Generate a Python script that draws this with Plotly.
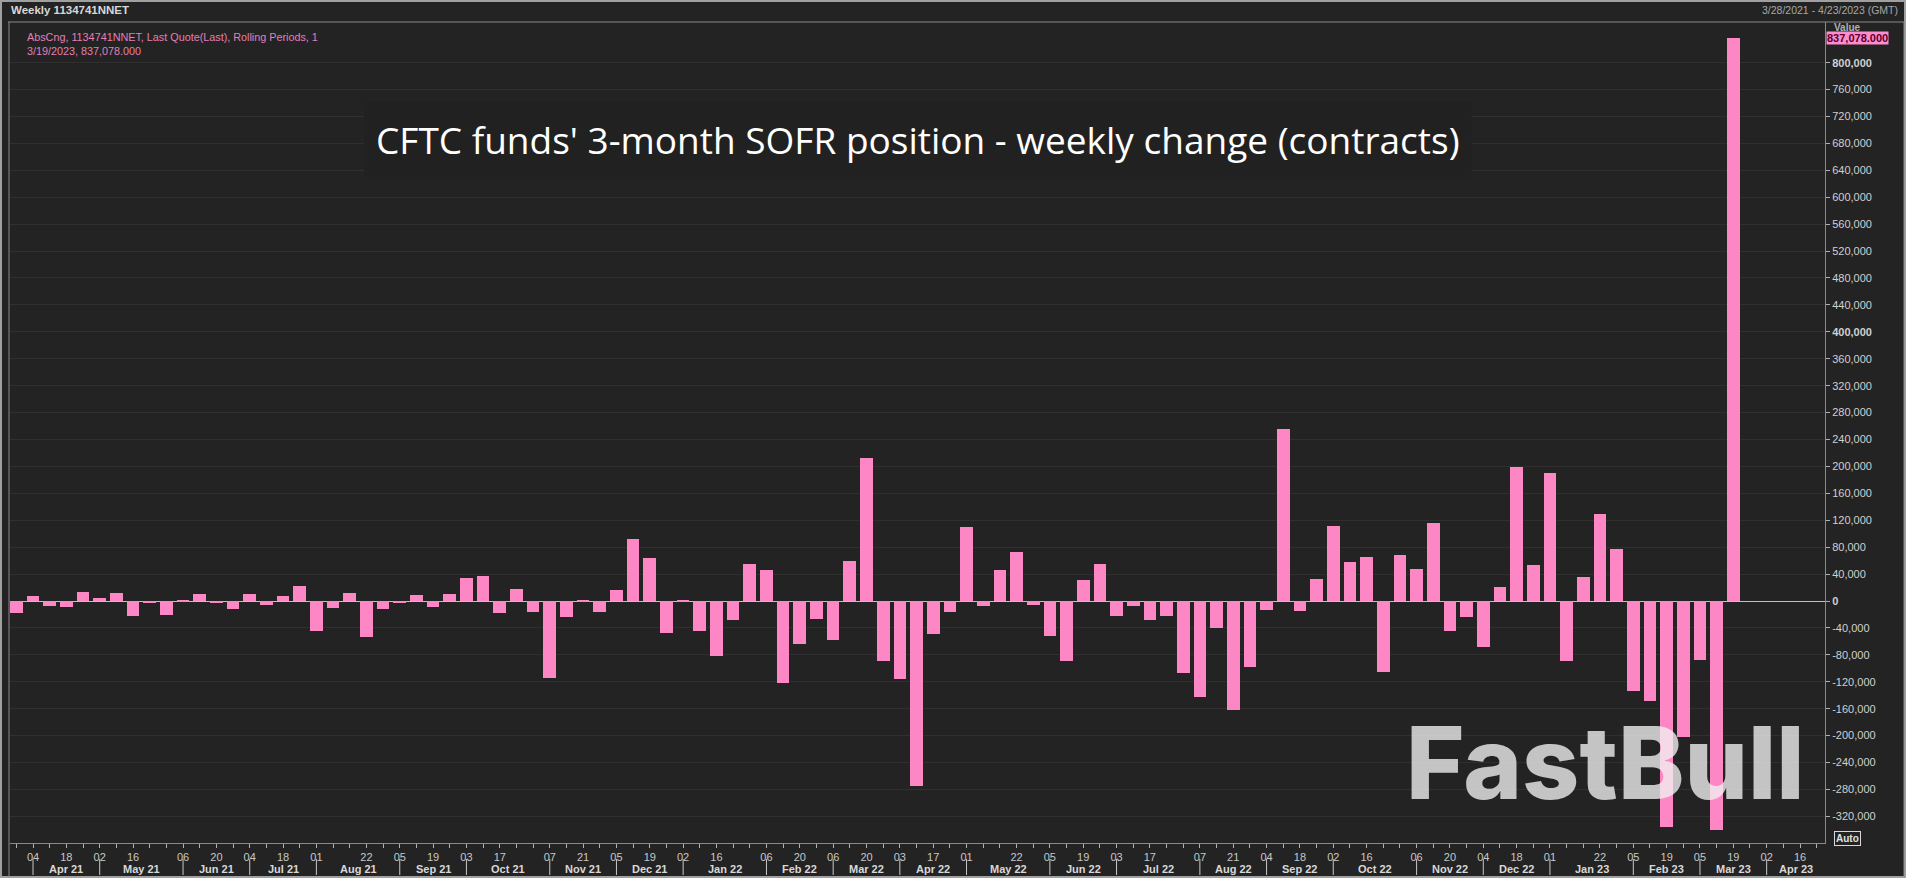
import plotly.graph_objects as go
import pandas as pd

# ---------------- data ----------------
weeks_2021 = ["03-28", "04-04", "04-11", "04-18", "04-25", "05-02", "05-09", "05-16", "05-23", "05-30",
              "06-06", "06-13", "06-20", "06-27", "07-04", "07-11", "07-18", "07-25", "08-01", "08-08",
              "08-15", "08-22", "08-29", "09-05", "09-12", "09-19", "09-26", "10-03", "10-10", "10-17",
              "10-24", "10-31", "11-07", "11-14", "11-21", "11-28", "12-05", "12-12", "12-19", "12-26"]
weeks_2022 = ["01-02", "01-09", "01-16", "01-23", "01-30", "02-06", "02-13", "02-20", "02-27", "03-06",
              "03-13", "03-20", "03-27", "04-03", "04-10", "04-17", "04-24", "05-01", "05-08", "05-15",
              "05-22", "05-29", "06-05", "06-12", "06-19", "06-26", "07-03", "07-10", "07-17", "07-24",
              "07-31", "08-07", "08-14", "08-21", "08-28", "09-04", "09-11", "09-18", "09-25", "10-02",
              "10-09", "10-16", "10-23", "10-30", "11-06", "11-13", "11-20", "11-27", "12-04", "12-11",
              "12-18", "12-25"]
weeks_2023 = ["01-01", "01-08", "01-15", "01-22", "01-29", "02-05", "02-12", "02-19", "02-26", "03-05",
              "03-12", "03-19", "03-26", "04-02", "04-09", "04-16", "04-23"]
dates = ([f"2021-{d}" for d in weeks_2021] + [f"2022-{d}" for d in weeks_2022]
         + [f"2023-{d}" for d in weeks_2023])

weekly_change = [
    -18300, 7400, -7400, -9000, 13400, 4500, 12000, -22300, -3000, -20800,
    800, 10900, -3000, -11900, 10400, -5900, 7400, 22300, -44500, -10400,
    11900, -53500, -11400, -2500, 8900, -8400, 10400, 34200, 37100, -17800,
    17300, -16300, -113900, -23800, 500, -16800, 16300, 92100, 64400, -47000,
    1500, -44500, -81700, -28200, 54900, 46000, -121300, -63900, -26700, -57900,
    59400, 212400, -89100, -115300, -274700, -48500, -15800, 109900, -6900, 46000,
    72800, -5400, -52000, -89100, 30700, 55000, -21800, -6900, -27700, -21800,
    -106400, -142100, -40100, -161400, -98000, -12900, 255400, -15300, 32700, 111900,
    57900, 65800, -104900, 68800, 47500, 115800, -44100, -23500, -67800, 20800,
    199000, 53500, 190100, -89100, 35600, 129200, 77200, -133200, -148500, -336100,
    -202000, -87100, -339600, 837078, 0, 0, 0, 0, 0,
]

day_tick_dates = ["2021-04-04", "2021-04-18", "2021-05-02", "2021-05-16", "2021-06-06", "2021-06-20",
                  "2021-07-04", "2021-07-18", "2021-08-01", "2021-08-22", "2021-09-05", "2021-09-19",
                  "2021-10-03", "2021-10-17", "2021-11-07", "2021-11-21", "2021-12-05", "2021-12-19",
                  "2022-01-02", "2022-01-16", "2022-02-06", "2022-02-20", "2022-03-06", "2022-03-20",
                  "2022-04-03", "2022-04-17", "2022-05-01", "2022-05-22", "2022-06-05", "2022-06-19",
                  "2022-07-03", "2022-07-17", "2022-08-07", "2022-08-21", "2022-09-04", "2022-09-18",
                  "2022-10-02", "2022-10-16", "2022-11-06", "2022-11-20", "2022-12-04", "2022-12-18",
                  "2023-01-01", "2023-01-22", "2023-02-05", "2023-02-19", "2023-03-05", "2023-03-19",
                  "2023-04-02", "2023-04-16"]
day_tick_text = [d[-2:] for d in day_tick_dates]

month_labels = ["Apr 21", "May 21", "Jun 21", "Jul 21", "Aug 21", "Sep 21", "Oct 21", "Nov 21", "Dec 21",
                "Jan 22", "Feb 22", "Mar 22", "Apr 22", "May 22", "Jun 22", "Jul 22", "Aug 22", "Sep 22",
                "Oct 22", "Nov 22", "Dec 22", "Jan 23", "Feb 23", "Mar 23", "Apr 23"]
month_first_sundays = ["2021-04-04", "2021-05-02", "2021-06-06", "2021-07-04", "2021-08-01", "2021-09-05",
                       "2021-10-03", "2021-11-07", "2021-12-05", "2022-01-02", "2022-02-06", "2022-03-06",
                       "2022-04-03", "2022-05-01", "2022-06-05", "2022-07-03", "2022-08-07", "2022-09-04",
                       "2022-10-02", "2022-11-06", "2022-12-04", "2023-01-01", "2023-02-05", "2023-03-05",
                       "2023-04-02"]

y_tick_vals = list(range(-320000, 800001, 40000))
bold_y_ticks = [0, 400000, 800000]
last_value_label = "837,078.000"

# ---------------- styling / geometry ----------------
W, H = 1906, 878
L, R, T, B = 10, 1825, 22, 843  # plot area in pixels
PINK = "#fd87c4"
BG = "#232323"
DAY = 86400000
x_range = ["2021-03-25 08:00", "2023-04-26 12:00"]


def px(xp):
    return (xp - L) / (R - L)


def py(yp):
    return (B - yp) / (B - T)


def ytext(v):
    s = f"{v:,}"
    return f"<b>{s}</b>" if v in bold_y_ticks else s


fig = go.Figure()
fig.add_trace(go.Bar(
    x=dates, y=weekly_change, marker=dict(color=PINK, line=dict(width=0)),
    width=0.76 * 7 * DAY, showlegend=False, hoverinfo="skip",
))

ts = pd.to_datetime(month_first_sundays)
end_ts = pd.Timestamp(x_range[1])
annotations = []
shapes = []
for i, lab in enumerate(month_labels):
    a = ts[i]
    b = ts[i + 1] if i + 1 < len(ts) else end_ts
    mid = a + (b - a) / 2
    annotations.append(dict(x=mid.strftime("%Y-%m-%d %H:%M"), y=py(869), xref="x", yref="paper",
                            text=f"<b>{lab}</b>", showarrow=False, xanchor="center", yanchor="middle",
                            font=dict(family="Liberation Sans", size=11, color="#d8d8d8")))
    shapes.append(dict(type="line", xref="x", yref="paper", x0=month_first_sundays[i],
                       x1=month_first_sundays[i], y0=py(859), y1=py(875),
                       line=dict(color="#c8c8c8", width=1)))

# frame lines
line_c = "#8a8a8a"
shapes += [
    dict(type="rect", xref="paper", yref="paper", x0=px(1), x1=px(1905), y0=py(877), y1=py(1),
         line=dict(color="#a0a0a0", width=2), layer="above"),
    dict(type="line", xref="paper", yref="paper", x0=px(8), x1=px(1905), y0=py(T), y1=py(T),
         line=dict(color=line_c, width=1)),
    dict(type="line", xref="paper", yref="paper", x0=px(9), x1=px(9), y0=py(T), y1=py(877),
         line=dict(color=line_c, width=1)),
    dict(type="line", xref="paper", yref="paper", x0=px(1904), x1=px(1904), y0=py(T), y1=py(877),
         line=dict(color=line_c, width=1)),
]

annotations += [
    dict(x=px(9), y=py(10), xref="paper", yref="paper", text="<b>Weekly 1134741NNET</b>",
         showarrow=False, xanchor="left", yanchor="middle",
         font=dict(family="Liberation Sans", size=11.5, color="#d8d8d8")),
    dict(x=px(1900), y=py(10), xref="paper", yref="paper", text="3/28/2021 - 4/23/2023 (GMT)",
         showarrow=False, xanchor="right", yanchor="middle",
         font=dict(family="Liberation Sans", size=10.5, color="#a8a8a8")),
    dict(x=px(25), y=py(37), xref="paper", yref="paper",
         text="AbsCng, 1134741NNET, Last Quote(Last), Rolling Periods, 1",
         showarrow=False, xanchor="left", yanchor="middle",
         font=dict(family="Liberation Sans", size=10.8, color="#e47fb8")),
    dict(x=px(25), y=py(51), xref="paper", yref="paper", text="3/19/2023, 837,078.000",
         showarrow=False, xanchor="left", yanchor="middle",
         font=dict(family="Liberation Sans", size=10.8, color="#e47fb8")),
    dict(x=px(918), y=py(139), xref="paper", yref="paper",
         text="CFTC funds' 3-month SOFR position - weekly change (contracts)",
         showarrow=False, xanchor="center", yanchor="middle", bgcolor="#212121",
         borderpad=11,
         font=dict(family="Open Sans", size=37, color="#ffffff")),
    dict(x=px(1832), y=py(27), xref="paper", yref="paper", text="<b>Value</b>",
         showarrow=False, xanchor="left", yanchor="middle",
         font=dict(family="Liberation Sans", size=10, color="#b0b0b0")),
    dict(x=px(1826), y=weekly_change[dates.index("2023-03-19")], xref="paper", yref="y",
         text=f"<b>{last_value_label}</b>", showarrow=False, xanchor="left", yanchor="middle",
         bgcolor="#ff8ccb", borderpad=0,
         font=dict(family="Liberation Sans", size=11, color="#5a0030")),
    dict(x=px(1847), y=py(838), xref="paper", yref="paper", text="<b>Auto</b>",
         showarrow=False, xanchor="center", yanchor="middle", bordercolor="#d8d8d8", borderwidth=1,
         borderpad=1, font=dict(family="Liberation Sans", size=10, color="#e0e0e0")),
    dict(x=px(1605), y=py(762), xref="paper", yref="paper", text="FastBull",
         showarrow=False, xanchor="center", yanchor="middle", opacity=0.78,
         font=dict(family="Inter", size=100, weight=800, color="#f2f2f2")),
]

fig.update_layout(
    width=W, height=H,
    margin=dict(l=L, r=W - R, t=T, b=H - B, pad=0),
    paper_bgcolor=BG, plot_bgcolor=BG,
    bargap=0,
    xaxis=dict(
        type="date", range=x_range, showgrid=False, zeroline=False,
        tickmode="array", tickvals=day_tick_dates, ticktext=day_tick_text,
        ticks="outside", ticklen=4, tickcolor="#b0b0b0", tickwidth=1,
        tickfont=dict(family="Liberation Sans", size=11, color="#c8c8c8"),
        showline=True, linecolor="#8a8a8a", linewidth=1,
        minor=dict(ticks="outside", ticklen=4, tickcolor="#b0b0b0", dtick=7 * DAY,
                   tick0="2021-03-28", showgrid=False),
    ),
    yaxis=dict(
        side="right", range=[-359600, 860400],
        tickmode="array", tickvals=y_tick_vals, ticktext=[ytext(v) for v in y_tick_vals],
        ticks="outside", ticklen=4, tickcolor="#b0b0b0",
        tickfont=dict(family="Liberation Sans", size=11, color="#d0d0d0"),
        showgrid=True, gridcolor="#2f2f2f", gridwidth=1,
        zeroline=True, zerolinecolor="#e2b0c8", zerolinewidth=1,
        showline=True, linecolor="#8a8a8a", linewidth=1,
    ),
    shapes=shapes,
    annotations=annotations,
)

fig.write_html("out.html", config={"displayModeBar": False},
               post_script="document.body.style.margin='0';document.body.style.overflow='hidden';")
